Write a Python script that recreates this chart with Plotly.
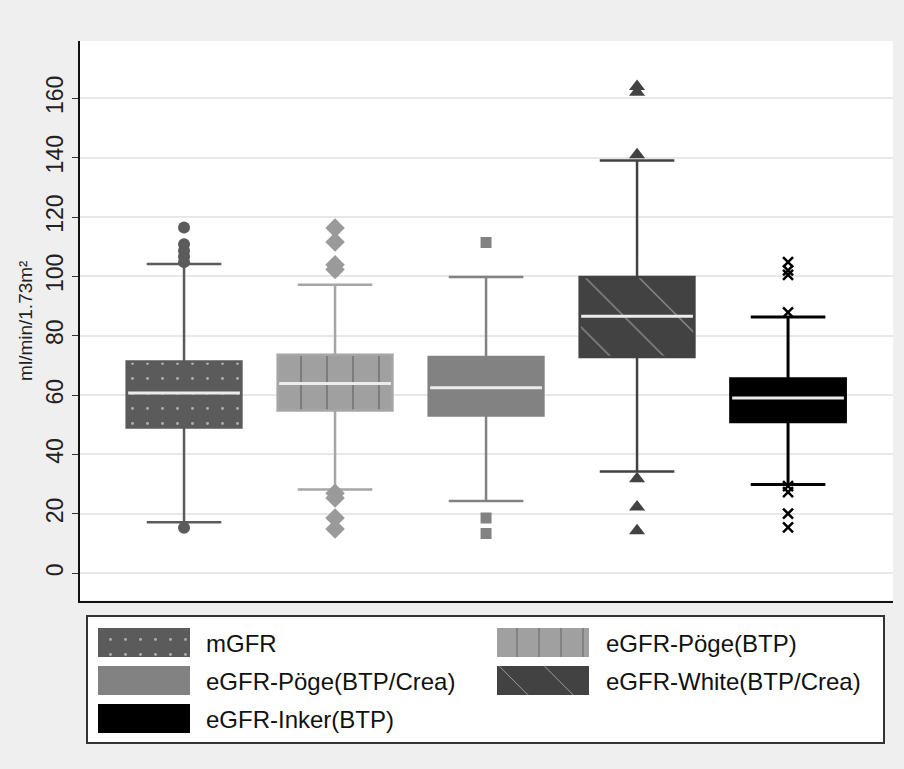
import plotly.graph_objects as go

# ---------------- data ----------------
groups = ["mGFR", "eGFR-Pöge(BTP)", "eGFR-Pöge(BTP/Crea)", "eGFR-White(BTP/Crea)", "eGFR-Inker(BTP)"]
q1 = [49.1, 54.8, 53.1, 72.8, 51.0]
median = [60.7, 63.9, 62.5, 86.6, 59.0]
q3 = [71.3, 73.6, 72.8, 99.8, 65.5]
lower_whisker = [17.2, 28.2, 24.3, 34.3, 29.9]
upper_whisker = [104.2, 97.2, 99.8, 139.0, 86.3]
outliers_mgfr = [116.5, 110.8, 108.6, 106.6, 104.8, 15.3]
outliers_poege_btp = [116.3, 111.6, 103.9, 102.3, 26.9, 25.3, 18.6, 14.9]
outliers_poege_crea = [111.4, 18.6, 13.4]
outliers_white = [164.0, 162.0, 141.0, 31.8, 22.3, 14.3]
outliers_inker = [104.8, 102.0, 100.5, 87.9, 29.3, 27.3, 20.1, 15.4]
y_ticks = [0, 20, 40, 60, 80, 100, 120, 140, 160]
y_title = "ml/min/1.73m²"

# ---------------- styles ----------------
W, H = 904, 769
body_colors = ["#5b5b5b", "#a0a0a0", "#828282", "#424242", "#000000"]
line_colors = ["#5b5b5b", "#a6a6a6", "#828282", "#424242", "#000000"]
pat_shapes = [".", "|", "", "\\", ""]
pat_sizes = [15, 26, 10, 38, 10]
pat_solid = [0.03, 0.06, 0.1, 0.03, 0.1]
symbols = ["circle", "diamond", "square", "triangle-up", "x-thin"]
sym_sizes = [12, 15, 11, 14, 10]
outliers = [outliers_mgfr, outliers_poege_btp, outliers_poege_crea, outliers_white, outliers_inker]
box_w = 0.76
xs = list(range(len(groups)))

fig = go.Figure()

# box bodies with patterns
fig.add_trace(go.Bar(
    x=xs, base=q1, y=[b - a for a, b in zip(q1, q3)], width=box_w,
    marker=dict(color=body_colors, line=dict(width=0),
                pattern=dict(shape=pat_shapes, size=pat_sizes, solidity=pat_solid,
                             fgcolor="white", fillmode="overlay")),
    showlegend=False, hoverinfo="skip"))

# whiskers / outlines
for i, g in enumerate(groups):
    fig.add_trace(go.Box(
        x=[i], q1=[q1[i]], median=[median[i]], q3=[q3[i]],
        lowerfence=[lower_whisker[i]], upperfence=[upper_whisker[i]],
        width=box_w, whiskerwidth=0.65, boxpoints=False,
        fillcolor="rgba(0,0,0,0)", line=dict(color=line_colors[i], width=2.5 if i < 4 else 3),
        name=g, showlegend=False))

# median lines
mx, my = [], []
for i in xs:
    mx += [i - box_w / 2 + 0.01, i + box_w / 2 - 0.01, None]
    my += [median[i], median[i], None]
fig.add_trace(go.Scatter(x=mx, y=my, mode="lines", line=dict(color="#ececec", width=3),
                         showlegend=False, hoverinfo="skip"))

# outliers
for i, vals in enumerate(outliers):
    mk = dict(symbol=symbols[i], size=sym_sizes[i], color=body_colors[i] if i != 1 else "#9a9a9a")
    if symbols[i] == "x-thin":
        mk["line"] = dict(color="#000000", width=2.5)
    fig.add_trace(go.Scatter(x=[i] * len(vals), y=vals, mode="markers", marker=mk,
                             showlegend=False, hoverinfo="skip"))

# ---------------- legend drawn in its own subplot ----------------
leg_x0, leg_x1, leg_y0, leg_y1 = 88, 883, 617, 742
sw_w, sw_h = 92, 29
col_left = [10, 409]
text_left = [116, 516]
row_top = [11, 49, 87]
leg_pos = [(0, 0), (1, 0), (0, 1), (1, 1), (0, 2)]
fig.add_trace(go.Bar(
    x=[col_left[c] + sw_w / 2 for c, r in leg_pos],
    base=[row_top[r] for c, r in leg_pos], y=[sw_h] * len(leg_pos), width=sw_w,
    marker=dict(color=body_colors, line=dict(width=0),
                pattern=dict(shape=pat_shapes, size=[15, 22, 10, 32, 10], solidity=pat_solid,
                             fgcolor="white", fillmode="overlay")),
    xaxis="x2", yaxis="y2", showlegend=False, hoverinfo="skip"))
for k, (c, r) in enumerate(leg_pos):
    fig.add_annotation(x=text_left[c], y=row_top[r] + sw_h / 2 + 1, xref="x2", yref="y2",
                       text=groups[k], showarrow=False, xanchor="left", yanchor="middle",
                       font=dict(family="Liberation Sans, Arial", size=24, color="#111111"))

fig.update_layout(
    width=W, height=H, margin=dict(l=0, r=0, t=0, b=0),
    paper_bgcolor="#efefef", plot_bgcolor="white",
    barmode="overlay", boxmode="overlay", showlegend=False,
    font=dict(family="Liberation Sans, Arial", color="#222222"),
    xaxis=dict(domain=[80 / W, 893 / W], range=[-0.689, 4.695], showticklabels=False,
               ticks="", showgrid=False, zeroline=False, showline=True, linecolor="#111111",
               linewidth=2, automargin=False),
    yaxis=dict(domain=[(H - 600.5) / H, (H - 41) / H], range=[-9.2, 179.3],
               tickvals=y_ticks, ticks="outside", ticklen=6, tickcolor="#333333", tickwidth=1.2,
               tickangle=-90, tickfont=dict(size=23, color="#222222"),
               showgrid=True, gridcolor="#e8e8e8", gridwidth=1.5, zeroline=False,
               showline=True, linecolor="#111111", linewidth=1.5, automargin=False,
               title=dict(text=y_title, font=dict(size=19, color="#222222"), standoff=4)),
    xaxis2=dict(domain=[leg_x0 / W, leg_x1 / W], range=[0, leg_x1 - leg_x0], visible=True,
                showticklabels=False, ticks="", showgrid=False, zeroline=False,
                showline=True, mirror=True, linecolor="#333333", linewidth=2, anchor="y2",
                fixedrange=True),
    yaxis2=dict(domain=[(H - leg_y1) / H, (H - leg_y0) / H], range=[leg_y1 - leg_y0, 0],
                showticklabels=False, ticks="", showgrid=False, zeroline=False,
                showline=True, mirror=True, linecolor="#333333", linewidth=2, anchor="x2",
                fixedrange=True),
)

fig.write_html("out.html", config={"displayModeBar": False},
               post_script="document.body.style.margin='0';document.body.style.overflow='hidden';")
